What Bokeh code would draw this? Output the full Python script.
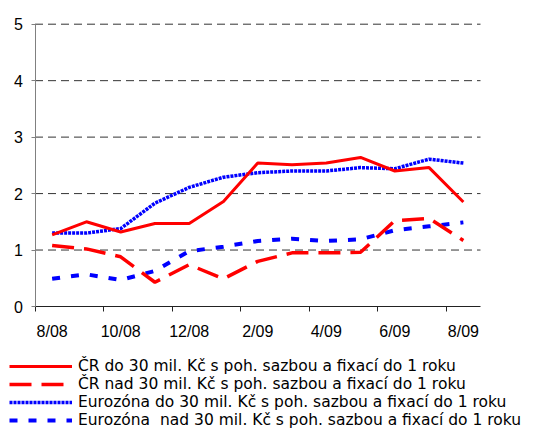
from bokeh.plotting import figure
from bokeh.models import FixedTicker, Legend, LegendItem, Range1d
from bokeh.embed import file_html
from bokeh.resources import INLINE

# Monthly rates (%), August 2008 – August 2009
months = ["8/08", "9/08", "10/08", "11/08", "12/08", "1/09", "2/09",
          "3/09", "4/09", "5/09", "6/09", "7/09", "8/09"]
tick_labels = ["8/08", "10/08", "12/08", "2/09", "4/09", "6/09", "8/09"]
y_ticks = [0, 1, 2, 3, 4, 5]

cr_do = [1.27, 1.50, 1.32, 1.47, 1.47, 1.86, 2.54, 2.51, 2.54, 2.64, 2.40, 2.46, 1.85]
cr_nad = [1.08, 1.02, 0.88, 0.43, 0.74, 0.49, 0.80, 0.95, 0.95, 0.96, 1.52, 1.56, 1.17]
ez_do = [1.30, 1.30, 1.38, 1.83, 2.11, 2.29, 2.37, 2.40, 2.40, 2.46, 2.44, 2.61, 2.54]
ez_nad = [0.49, 0.57, 0.47, 0.63, 0.98, 1.06, 1.16, 1.20, 1.16, 1.19, 1.35, 1.42, 1.49]

series_names = [
    "ČR do 30 mil. Kč s poh. sazbou a fixací do 1 roku",
    "ČR nad 30 mil. Kč s poh. sazbou a fixací do 1 roku",
    "Eurozóna do 30 mil. Kč s poh. sazbou a fixací do 1 roku",
    "Eurozóna  nad 30 mil. Kč s poh. sazbou a fixací do 1 roku",
]

W, H = 548, 428
# plot area in pixels (left, right, top, bottom); the rest holds axes and legend
PL, PR, PT, PB = 34.5, 480.0, 23.7, 306.0

n = len(months)
x = list(range(n))
x_lo, x_hi = -0.5, n - 0.5
y_lo, y_hi = y_ticks[0], y_ticks[-1]
ppx = (PR - PL) / (x_hi - x_lo)
ppy = (PB - PT) / (y_hi - y_lo)

# the frame spans the whole canvas so the legend below the axis is not clipped
p = figure(width=W, height=H, output_backend="svg", toolbar_location=None,
           x_range=Range1d(x_lo - PL / ppx, x_hi + (W - PR) / ppx),
           y_range=Range1d(y_lo - (H - PB) / ppy, y_hi + PT / ppy),
           min_border=0)
p.outline_line_color = None
p.background_fill_color = "white"
p.border_fill_color = "white"
p.xgrid.visible = False
p.ygrid.visible = False

# dashed horizontal gridlines across the plot area
gy = y_ticks[1:]
p.segment(x0=[x_lo] * len(gy), x1=[x_hi] * len(gy), y0=gy, y1=gy,
          line_color="#333333", line_dash="8 5", line_width=1)

# series lines (blue drawn first, red on top)
r_ez_do = p.line(x, ez_do, color="#0000ff", line_width=3.5, line_dash="3 1")
r_ez_nad = p.line(x, ez_nad, color="#0000ff", line_width=4, line_dash="8 11")
r_cr_do = p.line(x, cr_do, color="#ff0000", line_width=3)
r_cr_nad = p.line(x, cr_nad, color="#ff0000", line_width=3.5, line_dash="22 10")

# x axis at y=0: labels every second month, tick marks between categories
label_pos = [months.index(t) for t in tick_labels]
xa = p.xaxis[0]
xa.fixed_location = y_lo
xa.bounds = (x_lo, x_hi)
xa.ticker = FixedTicker(ticks=label_pos, minor_ticks=[i - 0.5 for i in label_pos])
xa.major_label_overrides = {i: t for i, t in zip(label_pos, tick_labels)}
xa.major_tick_line_color = None
xa.major_tick_out = 5
xa.major_tick_in = 0
xa.minor_tick_in = 0
xa.minor_tick_out = 5
xa.minor_tick_line_color = "#222222"
xa.axis_line_color = "#222222"
xa.major_label_standoff = 11

ya = p.yaxis[0]
ya.fixed_location = x_lo
ya.bounds = (y_lo, y_hi)
ya.ticker = FixedTicker(ticks=y_ticks)
ya.minor_tick_line_color = None
ya.major_tick_in = 0
ya.major_tick_out = 4
ya.major_tick_line_color = "#808080"
ya.axis_line_color = "#808080"
ya.major_label_standoff = 8

for ax in (xa, ya):
    ax.major_label_text_font = "Liberation Sans"
    ax.major_label_text_font_size = "16px"
    ax.major_label_text_color = "black"

legend = Legend(
    items=[LegendItem(label=series_names[0], renderers=[r_cr_do]),
           LegendItem(label=series_names[1], renderers=[r_cr_nad]),
           LegendItem(label=series_names[2], renderers=[r_ez_do]),
           LegendItem(label=series_names[3], renderers=[r_ez_nad])],
    location=(9, -1), orientation="vertical",
    background_fill_alpha=0, border_line_color=None,
    padding=0, margin=0, spacing=0,
    glyph_width=63, glyph_height=18, label_height=18, label_standoff=6,
    label_text_font="DejaVu Sans", label_text_font_size="15.5px",
    label_text_color="black",
)
p.add_layout(legend)

open("out.html", "w").write(file_html(p, INLINE))
